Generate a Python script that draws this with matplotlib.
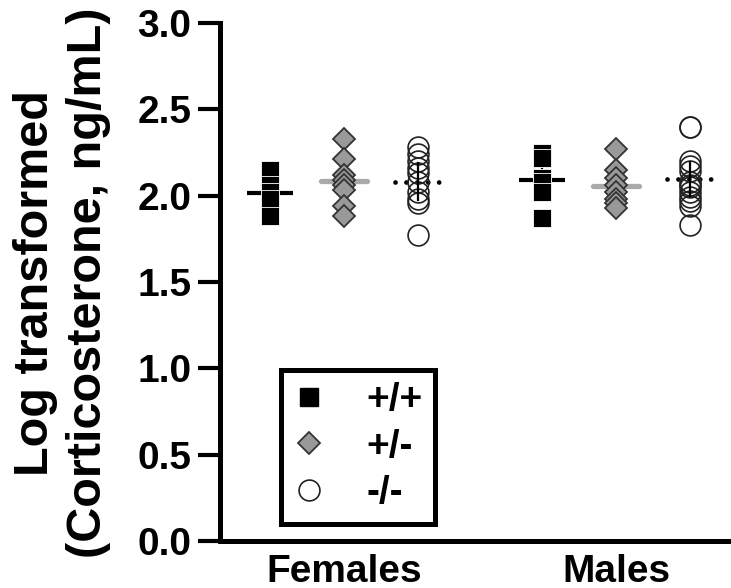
import numpy as np
import matplotlib
matplotlib.use('Agg')
import matplotlib.pyplot as plt
from matplotlib.lines import Line2D

plt.rcParams['font.family'] = ['Liberation Sans', 'DejaVu Sans']
plt.rcParams['font.weight'] = 'bold'

#---------------------------------------Data-------------------------------------------#

groups = ['Females', 'Males']
genotypes = ['+/+', '+/-', '-/-']

fem_wt = [2.15, 2.06, 2.02, 1.98, 1.88]
fem_het = [2.33, 2.21, 2.12, 2.09, 2.06, 2.03, 1.94, 1.88]
fem_ko = [2.28, 2.24, 2.20, 2.16, 2.13, 2.08, 2.02, 1.98, 1.96, 1.77]

male_wt = [2.25, 2.22, 2.10, 2.08, 2.02, 1.87]
male_het = [2.27, 2.15, 2.10, 2.06, 2.02, 1.98, 1.96, 1.93]
male_ko = [2.40, 2.395, 2.20, 2.17, 2.14, 2.06, 2.08, 2.05, 2.02, 1.99, 1.97, 1.94, 1.83]

# error bar half lengths
wt_err = [0.06, 0.07]
het_err = [0.05, 0.04]
ko_err = [0.107, 0.097]

yticks = [0.0, 0.5, 1.0, 1.5, 2.0, 2.5, 3.0]

#---------------------------------------Plotting-------------------------------------------#

fig = plt.figure(figsize=(7.31, 5.88), dpi=100)
ax = fig.add_axes([220 / 731, 1 - 541 / 588, 1 - 220 / 731, (541 - 23) / 588])

data = {
    '+/+': [fem_wt, male_wt],
    '+/-': [fem_het, male_het],
    '-/-': [fem_ko, male_ko],
}
errs = {'+/+': wt_err, '+/-': het_err, '-/-': ko_err}
offsets = {'+/+': -0.272, '+/-': 0.0, '-/-': 0.272}

styles = {
    '+/+': dict(marker='s', ms=13.5, mfc='black', mec='white', mew=0.6),
    '+/-': dict(marker='D', ms=11, mfc='#999999', mec='#333333', mew=1.3),
    '-/-': dict(marker='o', ms=15, mfc='none', mec='#222222', mew=1.2),
}
mean_styles = {
    '+/+': dict(color='black', lw=3, ls='-', solid_capstyle='butt'),
    '+/-': dict(color='#aaaaaa', lw=3.8, ls='-', solid_capstyle='round'),
    '-/-': dict(color='black', lw=3.4, ls=(0, (0.01, 2.3)), dash_capstyle='round'),
}
err_colors = {'+/+': 'black', '+/-': '#999999', '-/-': 'black'}
half = 0.085

for g in genotypes:
    for i in range(len(groups)):
        vals = np.array(data[g][i])
        x = i + 1 + offsets[g]
        m = vals.mean()
        ax.plot([x, x], [m - errs[g][i], m + errs[g][i]], color=err_colors[g],
                lw=1.6, zorder=2 if g != '-/-' else 4)
        ax.plot([x - half, x + half], [m, m], zorder=2, **mean_styles[g])
        ax.plot(np.full(len(vals), x), vals, ls='none', zorder=3, **styles[g])

ax.set_xlim(0.544, 2.423)
ax.set_ylim(0, 3)
ax.set_yticks(yticks)
ax.set_yticklabels(['%.1f' % t for t in yticks])
ax.set_xticks([1, 2])
ax.set_xticklabels(groups)

for s in ['top', 'right']:
    ax.spines[s].set_visible(False)
for s in ['left', 'bottom']:
    ax.spines[s].set_linewidth(3.6)
ax.tick_params(axis='y', length=15.5, width=3.0, pad=5, labelsize=28)
ax.tick_params(axis='x', length=0, pad=9, labelsize=28)

fig.text(0.085, 1 - 283 / 588, 'Log transformed\n(Corticosterone, ng/mL)',
         rotation=90, ha='center', va='center', fontsize=35, fontweight='bold',
         multialignment='center', linespacing=1.23)

handles = [Line2D([], [], ls='none', **styles[g]) for g in genotypes]
handles[0] = Line2D([], [], ls='none', marker='s', ms=13.5, mfc='black', mec='black')
handles[2] = Line2D([], [], ls='none', marker='o', ms=15, mfc='white', mec='#222222', mew=1.2)
leg = fig.legend(handles, genotypes, loc='upper left',
                 bbox_to_anchor=(281 / 731, 1 - 370 / 588), frameon=True,
                 fancybox=False, edgecolor='black', framealpha=1, fontsize=28,
                 handlelength=0.8, handletextpad=1.07, labelspacing=0.27,
                 borderpad=0.32, borderaxespad=0)
leg.get_frame().set_linewidth(3.6)
for t in leg.get_texts():
    t.set_fontweight('bold')

fig.savefig('out.png', dpi=100)
